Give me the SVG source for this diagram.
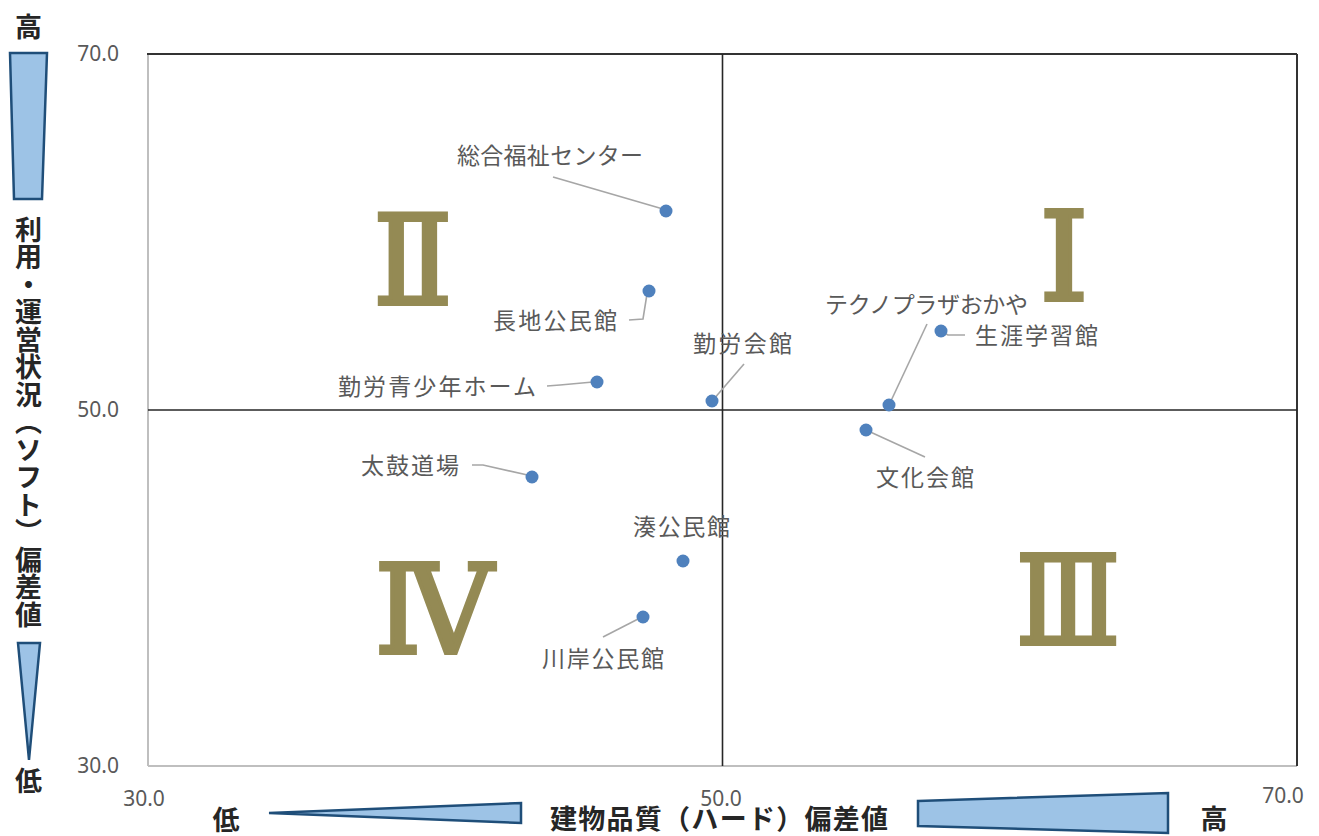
<svg xmlns="http://www.w3.org/2000/svg" width="1319" height="836" viewBox="0 0 1319 836">
<style>
.tick{font-family:"Noto Sans","Liberation Sans",sans-serif;font-size:21px;fill:#595959}
.lbl{font-family:"Noto Sans CJK JP","Noto Sans",sans-serif;font-size:23px;fill:#595959}
.ax{font-family:"Noto Sans CJK JP",sans-serif;font-size:27px;font-weight:700;fill:#262626}
.rn{font-family:"Liberation Serif","DejaVu Serif",serif;font-size:124px;fill:#948A54;stroke:#948A54;stroke-width:4;stroke-linejoin:miter;text-anchor:middle}
.wedge{fill:#9DC3E6;stroke:#1F4E79;stroke-width:2.5;stroke-linejoin:miter}
.lead{fill:none;stroke:#A6A6A6;stroke-width:1.6}
.pt{fill:#4F81BD}
</style>
<rect width="1319" height="836" fill="#ffffff"/>
<g id="plot-area">
<line x1="148" y1="54" x2="148" y2="766" stroke="#BFBFBF" stroke-width="2"/>
<line x1="148" y1="766" x2="1297" y2="766" stroke="#BFBFBF" stroke-width="2"/>
<line x1="147" y1="54" x2="1297" y2="54" stroke="#333333" stroke-width="2"/>
<line x1="1297" y1="54" x2="1297" y2="766" stroke="#333333" stroke-width="2"/>
<line x1="722.5" y1="54" x2="722.5" y2="766" stroke="#262626" stroke-width="1.6"/>
<line x1="148" y1="410" x2="1297" y2="410" stroke="#262626" stroke-width="1.6"/>
</g>
<g id="ticks">
<text class="tick" x="119" y="61" text-anchor="end">70.0</text>
<text class="tick" x="119" y="417" text-anchor="end">50.0</text>
<text class="tick" x="119" y="773" text-anchor="end">30.0</text>
<text class="tick" x="144" y="806" text-anchor="middle">30.0</text>
<text class="tick" x="721" y="806" text-anchor="middle">50.0</text>
<text class="tick" x="1283" y="803" text-anchor="middle">70.0</text>
</g>
<g id="quadrants">
<text class="rn" x="1064" y="300">Ⅰ</text>
<text class="rn" x="413" y="304" transform="translate(413,0) scale(0.94,1) translate(-413,0)">Ⅱ</text>
<text class="rn" x="1068" y="644" transform="translate(1068,0) scale(0.875,1) translate(-1068,0)">Ⅲ</text>
<text class="rn" x="434" y="653" transform="translate(434,0) scale(0.96,1) translate(-434,0)">Ⅳ</text>
</g>
<g id="connectors">
<polyline class="lead" points="553,177 663,209"/>
<polyline class="lead" points="629,320 643,319 647,294"/>
<polyline class="lead" points="547,386 560,385 593,382"/>
<polyline class="lead" points="744,364 713,400"/>
<polyline class="lead" points="927,324 890,403"/>
<polyline class="lead" points="942,332 948,335 965,335"/>
<polyline class="lead" points="866,430 925,457"/>
<polyline class="lead" points="472,465 483,465 532,476"/>
<polyline class="lead" points="603,637 642,617"/>
</g>
<g id="node-sogo"><circle class="pt" cx="666" cy="211" r="6.5"/><text class="lbl" x="457" y="164" textLength="186" lengthAdjust="spacing">総合福祉センター</text></g>
<g id="node-osachi"><circle class="pt" cx="649" cy="291" r="6.5"/><text class="lbl" x="493" y="329" textLength="124" lengthAdjust="spacing">長地公民館</text></g>
<g id="node-seishonen"><circle class="pt" cx="597" cy="382" r="6.5"/><text class="lbl" x="338" y="395" textLength="198" lengthAdjust="spacing">勤労青少年ホーム</text></g>
<g id="node-kinro"><circle class="pt" cx="712" cy="401" r="6.5"/><text class="lbl" x="693" y="352" textLength="99" lengthAdjust="spacing">勤労会館</text></g>
<g id="node-techno"><circle class="pt" cx="889" cy="405" r="6.5"/><text class="lbl" x="825" y="313" textLength="203" lengthAdjust="spacing">テクノプラザおかや</text></g>
<g id="node-shogai"><circle class="pt" cx="941" cy="331" r="6.5"/><text class="lbl" x="975" y="344" textLength="123" lengthAdjust="spacing">生涯学習館</text></g>
<g id="node-bunka"><circle class="pt" cx="866" cy="430" r="6.5"/><text class="lbl" x="876" y="486" textLength="98" lengthAdjust="spacing">文化会館</text></g>
<g id="node-taiko"><circle class="pt" cx="532" cy="477" r="6.5"/><text class="lbl" x="361" y="474" textLength="98" lengthAdjust="spacing">太鼓道場</text></g>
<g id="node-minato"><circle class="pt" cx="683" cy="561" r="6.5"/><text class="lbl" x="633" y="535" textLength="97" lengthAdjust="spacing">湊公民館</text></g>
<g id="node-kawagishi"><circle class="pt" cx="643" cy="617" r="6.5"/><text class="lbl" x="542" y="667" textLength="122" lengthAdjust="spacing">川岸公民館</text></g>
<g id="axis-y">
<polygon class="wedge" points="10,53 47,53 42,199 14,199"/>
<polygon class="wedge" points="18,643 40,643 29,760"/>
<text class="ax" x="28.5" y="37" text-anchor="middle">高</text>
<text class="ax" x="28.5" y="216" style="writing-mode:vertical-rl" letter-spacing="0.5">利用・運営状況（ソフト）偏差値</text>
<text class="ax" x="28.5" y="791" text-anchor="middle">低</text>
</g>
<g id="axis-x">
<polygon class="wedge" points="269,813 521,803 521,823"/>
<polygon class="wedge" points="918,801 1168,793 1168,833 918,826"/>
<text class="ax" x="226" y="830" text-anchor="middle">低</text>
<text class="ax" x="550" y="829" textLength="338" lengthAdjust="spacing">建物品質（ハード）偏差値</text>
<text class="ax" x="1214" y="829" text-anchor="middle">高</text>
</g>
</svg>
